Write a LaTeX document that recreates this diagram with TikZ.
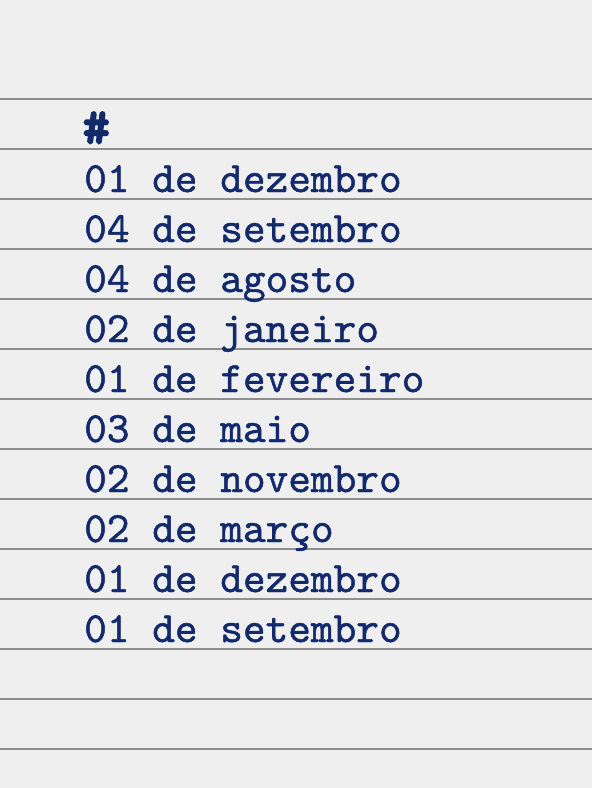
\documentclass[tikz,border=0pt]{standalone}
\usepackage{fontspec}
\newfontfamily\typer{lmmono10-regular.otf}[FakeBold=1.1]
\newfontfamily\typerbold{lmmono10-regular.otf}[FakeBold=5]
\definecolor{paper}{HTML}{EFEFEF}
\definecolor{rule}{HTML}{8E8E8E}
\definecolor{ink}{HTML}{12296B}

\begin{document}
\begin{tikzpicture}[x=1pt,y=-1pt,
  rowline/.style={rule,line width=1.5pt},
  entry/.style={anchor=base west,inner sep=0pt,text=ink,font=\typer\fontsize{43.2}{50}\selectfont}]
 \fill[paper](0,0) rectangle (592,788); 
 \useasboundingbox (0,0) rectangle (592,788); 
 \draw[rowline](0,99)--(592,99); 
 \draw[rowline](0,149)--(592,149); 
 \draw[rowline](0,199)--(592,199); 
 \draw[rowline](0,249)--(592,249); 
 \draw[rowline](0,299)--(592,299); 
 \draw[rowline](0,349)--(592,349); 
 \draw[rowline](0,399)--(592,399); 
 \draw[rowline](0,449)--(592,449); 
 \draw[rowline](0,499)--(592,499); 
 \draw[rowline](0,549)--(592,549); 
 \draw[rowline](0,599)--(592,599); 
 \draw[rowline](0,649)--(592,649); 
 \draw[rowline](0,699)--(592,699); 
 \draw[rowline](0,749)--(592,749); 
 \node[entry,font=\typerbold\fontsize{50}{50}\selectfont] (head) at (83,143) {\#}; 
 \node[entry] (d1) at (84,192) {01 de dezembro}; 
 \node[entry] (d2) at (84,242) {04 de setembro}; 
 \node[entry] (d3) at (84,292) {04 de agosto}; 
 \node[entry] (d4) at (84,342) {02 de janeiro}; 
 \node[entry] (d5) at (84,392) {01 de fevereiro}; 
 \node[entry] (d6) at (84,442) {03 de maio}; 
 \node[entry] (d7) at (84,492) {02 de novembro}; 
 \node[entry] (d8) at (84,542) {02 de março}; 
 \node[entry] (d9) at (84,592) {01 de dezembro}; 
 \node[entry] (d10) at (84,642) {01 de setembro}; 
\end{tikzpicture}
\end{document}
